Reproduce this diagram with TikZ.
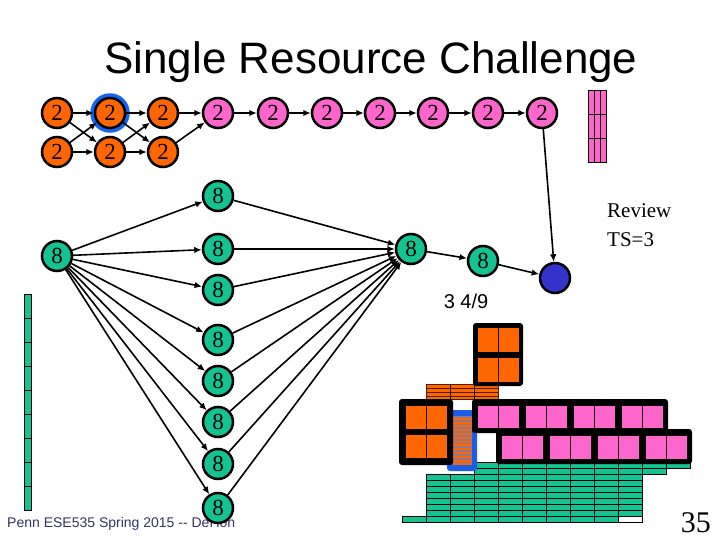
\documentclass[tikz,border=0pt]{standalone}
\usepackage{fontspec}
\setmainfont{Liberation Serif}
\setsansfont{Liberation Sans}
\usetikzlibrary{arrows.meta}
\definecolor{orn}{RGB}{255,102,0}
\definecolor{pnk}{RGB}{255,102,204}
\definecolor{grn}{RGB}{20,195,145}
\definecolor{ring}{RGB}{20,100,240}
\definecolor{dblue}{RGB}{51,51,204}
\definecolor{colblue}{RGB}{26,94,232}
\definecolor{stripe}{RGB}{138,122,150}
\definecolor{foot}{RGB}{51,51,102}
\begin{document}
\begin{tikzpicture}[x=1pt,y=-1pt,
  nd/.style={circle,draw=black,line width=2.5pt,minimum size=30pt,inner sep=0pt,font=\fontsize{23}{23}\selectfont},
  on/.style={nd,fill=orn},
  pn/.style={nd,fill=pnk},
  gn/.style={nd,fill=grn},
  ar/.style={-{Latex[length=7.5pt,width=6.5pt]},line width=1.6pt},
  blk/.style={fill=black,rounded corners=3pt},
  cell/.style={draw=black,line width=0.6pt},
  gcell/.style={fill=grn,draw=black,line width=0.6pt}]
\useasboundingbox (0,0) rectangle (720,540);

% title
\node[font=\sffamily\fontsize{44}{44}\selectfont,anchor=base] (title) at (371,74) {Single Resource Challenge};

% footer
\node[font=\sffamily\fontsize{14}{14}\selectfont,text=foot,anchor=base west,inner sep=0pt] (footer) at (7,527) {Penn ESE535 Spring 2015 -{}- DeHon};
\node[font=\fontsize{30}{30}\selectfont,anchor=base east,inner sep=0pt] (pnum) at (711,532) {35};

% labels
\node[font=\fontsize{21}{21}\selectfont,anchor=base west,inner sep=0pt] (rev) at (607,218) {Review};
\node[font=\fontsize{21}{21}\selectfont,anchor=base west,inner sep=0pt] (ts) at (607,247) {TS=3};
\node[font=\sffamily\fontsize{20}{20}\selectfont,anchor=base,inner sep=0pt] (frac) at (466,308) {3 4/9};

% pink bar top right
\foreach \c in {0,1,2}{\foreach \r in {0,1,2}{
  \filldraw[fill=pnk,draw=black,line width=0.6pt] (588+6*\c,90+24*\r) rectangle +(6,24);}}

% green bar left
\foreach \r in {0,...,8}{
  \filldraw[fill=grn,draw=black,line width=0.6pt] (24,294+24*\r) rectangle +(7,24);}

% blue ring around node
\draw[ring,line width=4.5pt] (110,113) circle (17.5pt);

% top nodes
\node[on] (a1) at (57,113) {2};
\node[on] (a2) at (110,113) {2};
\node[on] (a3) at (163,113) {2};
\node[pn] (a4) at (218,113) {2};
\node[pn] (a5) at (273,113) {2};
\node[pn] (a6) at (327,113) {2};
\node[pn] (a7) at (380,113) {2};
\node[pn] (a8) at (433,113) {2};
\node[pn] (a9) at (488,113) {2};
\node[pn] (a10) at (542,113) {2};
\node[on] (b1) at (57,152) {2};
\node[on] (b2) at (110,152) {2};
\node[on] (b3) at (163,152) {2};

\draw[ar] (a1) -- (a2);
\draw[ar] (a1) -- (b2);
\draw[ar] (b1) -- (a2);
\draw[ar] (b1) -- (b2);
\draw[ar] (a2) -- (a3);
\draw[ar] (a2) -- (b3);
\draw[ar] (b2) -- (a3);
\draw[ar] (b2) -- (b3);
\draw[ar] (a3) -- (a4);
\draw[ar] (b3) -- (a4);
\draw[ar] (a4) -- (a5);
\draw[ar] (a5) -- (a6);
\draw[ar] (a6) -- (a7);
\draw[ar] (a7) -- (a8);
\draw[ar] (a8) -- (a9);
\draw[ar] (a9) -- (a10);

% 8 nodes
\node[gn] (L) at (57,256) {8};
\node[gn] (m1) at (218,196) {8};
\node[gn] (m2) at (218,249) {8};
\node[gn] (m3) at (218,290) {8};
\node[gn] (m4) at (218,340) {8};
\node[gn] (m5) at (218,381) {8};
\node[gn] (m6) at (218,422) {8};
\node[gn] (m7) at (218,464) {8};
\node[gn] (m8) at (218,508) {8};
\node[gn] (R) at (411,249) {8};
\node[gn] (R2) at (483,261) {8};
\node[nd,fill=dblue] (B) at (555,278) {};

\foreach \m in {m1,m2,m3,m4,m5,m6,m7,m8}{
  \draw[ar] (L) -- (\m);
  \draw[ar] (\m) -- (R);}
\draw[ar] (R) -- (R2);
\draw[ar] (R2) -- (B);
\draw[ar] (a10) -- (B);

% ---- bottom right block diagram ----
% green rows
\foreach \c in {0,...,8}{\filldraw[gcell] (474+24*\c,462) rectangle +(24,6);}
\foreach \c in {0,...,7}{\filldraw[gcell] (474+24*\c,468) rectangle +(24,6);}
\foreach \r in {0,...,6}{\foreach \c in {0,...,8}{
  \filldraw[gcell] (426+24*\c,474+6*\r) rectangle +(24,6);}}
\filldraw[gcell] (402,516) rectangle (426,522);
\foreach \c in {0,...,7}{\filldraw[gcell] (426+24*\c,516) rectangle +(24,6);}
\filldraw[fill=white,draw=black,line width=0.6pt] (618,516) rectangle (642,522);

% orange striped block
\fill[orn] (426,384) rectangle (498,399);
\foreach \y in {388,392,396}{\draw[black!70!orn,line width=0.7pt] (426,\y) -- (498,\y);}
\draw[black!70!orn,line width=0.7pt] (426,384) rectangle (498,399);
\foreach \x in {450,474}{\draw[black,line width=0.6pt] (\x,384) -- (\x,399);}

% blue column
\fill[colblue,rounded corners=3pt] (447,410) rectangle (477,471);
\fill[orn] (453,416) rectangle (472,465);
\foreach \i in {0,...,12}{\fill[stripe] (453,416+3.8*\i) rectangle +(19,1.7);}

% left orange block
\fill[blk] (399,399) rectangle (453,465);
\foreach \x in {405,426}{\foreach \y in {405,434}{
  \filldraw[cell,fill=orn] (\x,\y) rectangle +(21,24);}}

% top orange block
\fill[blk] (473,323) rectangle (523,386);
\foreach \x in {477,498}{\foreach \y in {327,357}{
  \filldraw[cell,fill=orn] (\x,\y) rectangle +(21,25);}}

% pink row 1
\fill[blk] (472,399) rectangle (668,433);
\foreach \k in {0,...,3}{\foreach \d in {0,21}{
  \filldraw[cell,fill=pnk] (477+48*\k+\d,405) rectangle +(21,23);}}

% pink row 2
\fill[blk] (496,429) rectangle (692,464);
\foreach \k in {0,...,3}{\foreach \d in {0,21}{
  \filldraw[cell,fill=pnk] (501+48*\k+\d,435) rectangle +(21,24);}}

\end{tikzpicture}
\end{document}
